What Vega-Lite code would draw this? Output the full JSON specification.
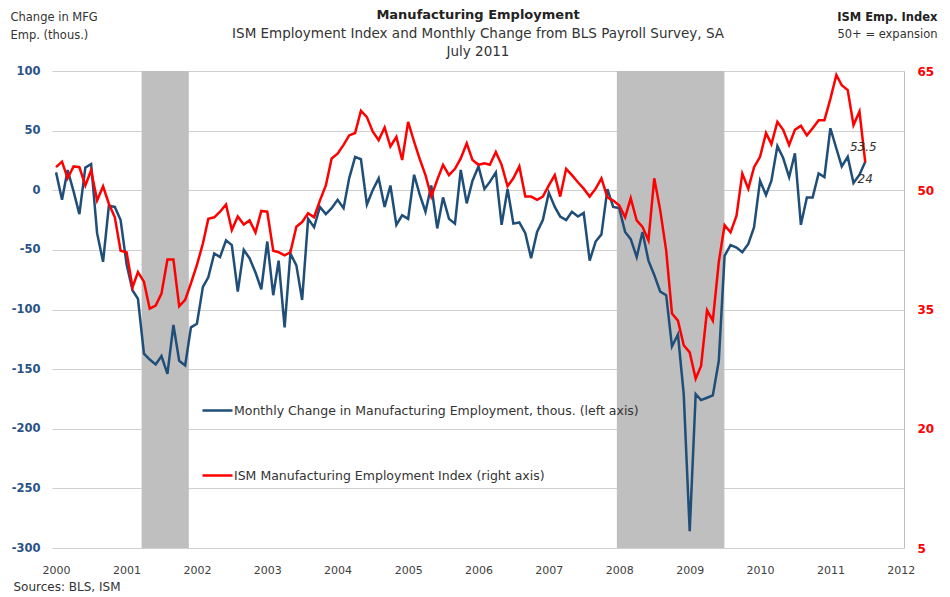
{
"$schema":"https://vega.github.io/schema/vega-lite/v6.json",
"autosize":{"type":"none"},
"width":852,"height":477,
"padding":{"left":52,"top":71,"right":46,"bottom":49},
"background":"white",
"config":{"view":{"stroke":null},"font":"DejaVu Sans",
"legend":{"orient":"none","legendX":149,"legendY":323,"padding":0,"symbolType":"stroke","symbolSize":900,"symbolStrokeWidth":2.5,"labelFont":"DejaVu Sans","labelFontSize":12.5,"labelColor":"#333333","labelOffset":0,"rowPadding":42,"labelLimit":600}},
"title":{"text":"Manufacturing Employment","subtitle":["ISM Employment Index and Monthly Change from BLS Payroll Survey, SA","July 2011"],"anchor":"middle","frame":"group","font":"DejaVu Sans","fontSize":13,"fontWeight":"bold","color":"#222222","subtitleFont":"DejaVu Sans","subtitleFontSize":13.5,"subtitleColor":"#333333","subtitlePadding":5,"subtitleLineHeight":18,"offset":-47},
"datasets":{"m":[
{"date":"2000-01-01","chg":15,"ism":52.9},{"date":"2000-02-01","chg":-8,"ism":53.6},{"date":"2000-03-01","chg":17,"ism":51.5},{"date":"2000-04-01","chg":-1,"ism":53.0},{"date":"2000-05-01","chg":-20,"ism":52.9},{"date":"2000-06-01","chg":19,"ism":50.6},{"date":"2000-07-01","chg":22,"ism":52.5},{"date":"2000-08-01","chg":-36,"ism":48.7},{"date":"2000-09-01","chg":-60,"ism":50.5},{"date":"2000-10-01","chg":-13,"ism":48.3},{"date":"2000-11-01","chg":-14,"ism":46.6},{"date":"2000-12-01","chg":-25,"ism":42.4},
{"date":"2001-01-01","chg":-62,"ism":42.2},{"date":"2001-02-01","chg":-84,"ism":37.8},{"date":"2001-03-01","chg":-91,"ism":39.7},{"date":"2001-04-01","chg":-137,"ism":38.5},{"date":"2001-05-01","chg":-142,"ism":35.1},{"date":"2001-06-01","chg":-146,"ism":35.5},{"date":"2001-07-01","chg":-139,"ism":37.0},{"date":"2001-08-01","chg":-154,"ism":41.3},{"date":"2001-09-01","chg":-113,"ism":41.3},{"date":"2001-10-01","chg":-143,"ism":35.4},{"date":"2001-11-01","chg":-147,"ism":36.2},{"date":"2001-12-01","chg":-115,"ism":38.3},
{"date":"2002-01-01","chg":-112,"ism":40.6},{"date":"2002-02-01","chg":-81,"ism":43.3},{"date":"2002-03-01","chg":-73,"ism":46.4},{"date":"2002-04-01","chg":-53,"ism":46.6},{"date":"2002-05-01","chg":-56,"ism":47.3},{"date":"2002-06-01","chg":-42,"ism":48.2},{"date":"2002-07-01","chg":-46,"ism":45.0},{"date":"2002-08-01","chg":-85,"ism":46.7},{"date":"2002-09-01","chg":-50,"ism":45.7},{"date":"2002-10-01","chg":-57,"ism":46.2},{"date":"2002-11-01","chg":-69,"ism":44.7},{"date":"2002-12-01","chg":-83,"ism":47.4},
{"date":"2003-01-01","chg":-43,"ism":47.3},{"date":"2003-02-01","chg":-88,"ism":42.4},{"date":"2003-03-01","chg":-59,"ism":42.2},{"date":"2003-04-01","chg":-115,"ism":41.8},{"date":"2003-05-01","chg":-53,"ism":42.2},{"date":"2003-06-01","chg":-63,"ism":45.4},{"date":"2003-07-01","chg":-92,"ism":46.0},{"date":"2003-08-01","chg":-24,"ism":47.1},{"date":"2003-09-01","chg":-31,"ism":46.6},{"date":"2003-10-01","chg":-14,"ism":48.7},{"date":"2003-11-01","chg":-20,"ism":50.6},{"date":"2003-12-01","chg":-15,"ism":54.0},
{"date":"2004-01-01","chg":-8,"ism":54.6},{"date":"2004-02-01","chg":-15,"ism":55.7},{"date":"2004-03-01","chg":10,"ism":56.9},{"date":"2004-04-01","chg":28,"ism":57.2},{"date":"2004-05-01","chg":26,"ism":60.0},{"date":"2004-06-01","chg":-12,"ism":59.2},{"date":"2004-07-01","chg":0,"ism":57.4},{"date":"2004-08-01","chg":10,"ism":56.3},{"date":"2004-09-01","chg":-14,"ism":57.9},{"date":"2004-10-01","chg":4,"ism":55.5},{"date":"2004-11-01","chg":-29,"ism":56.7},{"date":"2004-12-01","chg":-21,"ism":53.8},
{"date":"2005-01-01","chg":-24,"ism":58.6},{"date":"2005-02-01","chg":13,"ism":56.1},{"date":"2005-03-01","chg":-3,"ism":54.0},{"date":"2005-04-01","chg":-18,"ism":51.9},{"date":"2005-05-01","chg":4,"ism":49.2},{"date":"2005-06-01","chg":-32,"ism":51.3},{"date":"2005-07-01","chg":-6,"ism":53.2},{"date":"2005-08-01","chg":-24,"ism":51.9},{"date":"2005-09-01","chg":-28,"ism":52.7},{"date":"2005-10-01","chg":17,"ism":54.0},{"date":"2005-11-01","chg":-11,"ism":55.9},{"date":"2005-12-01","chg":8,"ism":53.8},
{"date":"2006-01-01","chg":20,"ism":53.2},{"date":"2006-02-01","chg":1,"ism":53.4},{"date":"2006-03-01","chg":7,"ism":53.2},{"date":"2006-04-01","chg":15,"ism":54.8},{"date":"2006-05-01","chg":-29,"ism":53.2},{"date":"2006-06-01","chg":1,"ism":50.5},{"date":"2006-07-01","chg":-28,"ism":51.5},{"date":"2006-08-01","chg":-27,"ism":53.0},{"date":"2006-09-01","chg":-36,"ism":49.2},{"date":"2006-10-01","chg":-57,"ism":49.2},{"date":"2006-11-01","chg":-35,"ism":48.8},{"date":"2006-12-01","chg":-25,"ism":49.2},
{"date":"2007-01-01","chg":-2,"ism":50.6},{"date":"2007-02-01","chg":-14,"ism":51.9},{"date":"2007-03-01","chg":-22,"ism":49.2},{"date":"2007-04-01","chg":-25,"ism":52.7},{"date":"2007-05-01","chg":-18,"ism":51.9},{"date":"2007-06-01","chg":-22,"ism":51.0},{"date":"2007-07-01","chg":-19,"ism":50.2},{"date":"2007-08-01","chg":-59,"ism":49.2},{"date":"2007-09-01","chg":-43,"ism":50.2},{"date":"2007-10-01","chg":-37,"ism":51.5},{"date":"2007-11-01","chg":1,"ism":49.1},{"date":"2007-12-01","chg":-14,"ism":48.7},
{"date":"2008-01-01","chg":-15,"ism":48.1},{"date":"2008-02-01","chg":-35,"ism":46.6},{"date":"2008-03-01","chg":-41,"ism":49.0},{"date":"2008-04-01","chg":-56,"ism":46.2},{"date":"2008-05-01","chg":-35,"ism":45.4},{"date":"2008-06-01","chg":-59,"ism":43.7},{"date":"2008-07-01","chg":-71,"ism":51.5},{"date":"2008-08-01","chg":-85,"ism":47.5},{"date":"2008-09-01","chg":-88,"ism":42.4},{"date":"2008-10-01","chg":-131,"ism":34.5},{"date":"2008-11-01","chg":-121,"ism":33.6},{"date":"2008-12-01","chg":-171,"ism":30.5},
{"date":"2009-01-01","chg":-286,"ism":29.6},{"date":"2009-02-01","chg":-171,"ism":26.3},{"date":"2009-03-01","chg":-176,"ism":27.9},{"date":"2009-04-01","chg":-174,"ism":34.9},{"date":"2009-05-01","chg":-172,"ism":33.6},{"date":"2009-06-01","chg":-143,"ism":41.0},{"date":"2009-07-01","chg":-55,"ism":45.6},{"date":"2009-08-01","chg":-46,"ism":44.7},{"date":"2009-09-01","chg":-48,"ism":46.8},{"date":"2009-10-01","chg":-52,"ism":52.1},{"date":"2009-11-01","chg":-45,"ism":50.2},{"date":"2009-12-01","chg":-31,"ism":52.9},
{"date":"2010-01-01","chg":8,"ism":54.2},{"date":"2010-02-01","chg":-4,"ism":57.2},{"date":"2010-03-01","chg":8,"ism":55.8},{"date":"2010-04-01","chg":37,"ism":58.6},{"date":"2010-05-01","chg":27,"ism":57.6},{"date":"2010-06-01","chg":11,"ism":55.7},{"date":"2010-07-01","chg":31,"ism":57.6},{"date":"2010-08-01","chg":-29,"ism":58.1},{"date":"2010-09-01","chg":-6,"ism":56.9},{"date":"2010-10-01","chg":-6,"ism":57.8},{"date":"2010-11-01","chg":14,"ism":58.8},{"date":"2010-12-01","chg":11,"ism":58.8},
{"date":"2011-01-01","chg":52,"ism":61.5},{"date":"2011-02-01","chg":35,"ism":64.5},{"date":"2011-03-01","chg":20,"ism":63.2},{"date":"2011-04-01","chg":28,"ism":62.6},{"date":"2011-05-01","chg":6,"ism":58.2},{"date":"2011-06-01","chg":13,"ism":59.9},{"date":"2011-07-01","chg":24,"ism":53.5}
]},
"layer":[
{"layer":[
{"data":{"values":[{"start":"2001-03-20","end":"2001-11-20"},{"start":"2007-12-20","end":"2009-06-30"}]},
"mark":{"type":"rect","color":"#BFBFBF"},
"encoding":{"x":{"field":"start","type":"temporal"},"x2":{"field":"end"}}},
{"data":{"name":"m"},
"mark":{"type":"line","strokeWidth":2.5},
"encoding":{
"x":{"field":"date","type":"temporal","title":"Sources: BLS, ISM",
"scale":{"domain":[{"year":1999,"month":12,"date":11},{"year":2012,"month":1,"date":18}]},
"axis":{"orient":"bottom","format":"%Y","tickCount":{"interval":"year","step":1},"ticks":false,"tickSize":0,"domain":false,"grid":false,"labelPadding":16,"labelFont":"DejaVu Sans","labelFontSize":11,"labelColor":"#404040","labelFlush":false,"labelOverlap":false,"titleX":-39,"titleY":33,"titleAlign":"left","titleAnchor":null,"titleBaseline":"top","titleFont":"DejaVu Sans","titleFontSize":12,"titleFontWeight":"normal","titleColor":"#333333"}},
"y":{"field":"chg","type":"quantitative","title":["Change in MFG","Emp. (thous.)"],
"scale":{"domain":[-300,100],"nice":false,"zero":false},
"axis":{"orient":"left","values":[-300,-250,-200,-150,-100,-50,0,50,100],"labelExpr":"replace(datum.label, '\u2212', '-')","grid":true,"gridColor":"#D0D0D0","gridWidth":1,"domain":false,"ticks":false,"tickSize":0,"labelPadding":12,"labelFont":"DejaVu Sans","labelFontSize":11.5,"labelFontWeight":"bold","labelColor":"#2A5386","titleAngle":0,"titleX":-42,"titleY":-60,"titleAlign":"left","titleAnchor":null,"titleBaseline":"top","titleFont":"DejaVu Sans","titleFontSize":11.5,"titleFontWeight":"normal","titleColor":"#333333","titleLineHeight":18}},
"color":{"datum":"Monthly Change in Manufacturing Employment, thous. (left axis)","type":"nominal",
"scale":{"domain":["Monthly Change in Manufacturing Employment, thous. (left axis)","ISM Manufacturing Employment Index (right axis)"],"range":["#1F4E79","#FF0000"]},
"legend":{"title":null}}}},
{"data":{"values":[{"date":"2011-07-01","chg":24,"t":"24"}]},
"mark":{"type":"text","font":"DejaVu Sans","fontSize":12,"fontStyle":"italic","color":"#333333","dy":17,"align":"center","baseline":"middle"},
"encoding":{"x":{"field":"date","type":"temporal"},"y":{"field":"chg","type":"quantitative"},"text":{"field":"t"}}}
]},
{"layer":[
{"data":{"name":"m"},
"mark":{"type":"line","strokeWidth":2.5},
"encoding":{
"x":{"field":"date","type":"temporal","title":"50+ = expansion",
"axis":{"orient":"top","labels":false,"ticks":false,"domain":false,"grid":false,"titleX":885,"titleY":-43,"titleAlign":"right","titleAnchor":null,"titleBaseline":"top","titleFont":"DejaVu Sans","titleFontSize":11.5,"titleFontWeight":"normal","titleColor":"#333333"}},
"y":{"field":"ism","type":"quantitative","title":"ISM Emp. Index",
"scale":{"domain":[5,65],"nice":false,"zero":false},
"axis":{"orient":"right","values":[5,20,35,50,65],"grid":false,"domain":true,"domainColor":"#BFBFBF","domainWidth":1,"ticks":false,"tickSize":0,"labelPadding":13,"labelFont":"DejaVu Sans","labelFontSize":12,"labelFontWeight":"bold","labelColor":"#FF0000","titleAngle":0,"titleX":33,"titleY":-60,"titleAlign":"right","titleAnchor":null,"titleBaseline":"top","titleFont":"DejaVu Sans","titleFontSize":11.5,"titleFontWeight":"bold","titleColor":"#222222"}},
"color":{"datum":"ISM Manufacturing Employment Index (right axis)","type":"nominal",
"scale":{"domain":["Monthly Change in Manufacturing Employment, thous. (left axis)","ISM Manufacturing Employment Index (right axis)"],"range":["#1F4E79","#FF0000"]},
"legend":{"title":null}}}},
{"data":{"values":[{"date":"2011-07-01","ism":53.5,"t":"53.5"}]},
"mark":{"type":"text","font":"DejaVu Sans","fontSize":12,"fontStyle":"italic","color":"#333333","dy":-15,"dx":-2,"align":"center","baseline":"middle"},
"encoding":{"x":{"field":"date","type":"temporal"},"y":{"field":"ism","type":"quantitative"},"text":{"field":"t"}}},
{"mark":{"type":"rule","color":"#000000","strokeWidth":2},
"encoding":{"y":{"datum":50}}}
]}
],
"resolve":{"scale":{"y":"independent"},"axis":{"x":"independent"}}
}
